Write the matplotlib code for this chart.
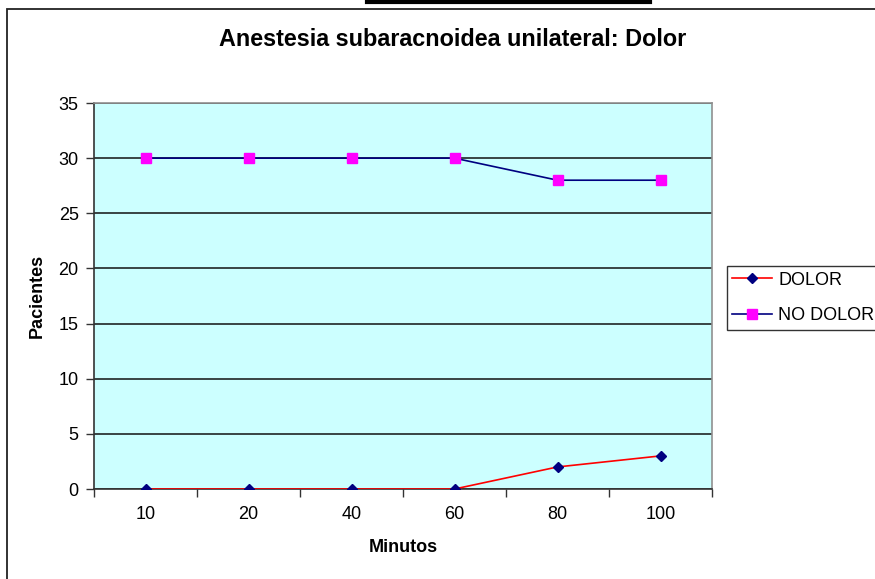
import matplotlib.pyplot as plt
from matplotlib.lines import Line2D
from matplotlib.patches import Rectangle

# datos
minutos = ['10', '20', '40', '60', '80', '100']
dolor = [0, 0, 0, 0, 2, 3]
no_dolor = [30, 30, 30, 30, 28, 28]

plt.rcParams['font.family'] = ['Liberation Sans', 'DejaVu Sans']

fig = plt.figure(figsize=(8.75, 5.79), dpi=100)
fig.patch.set_facecolor('white')

# marco del gráfico
fig.patches.append(Rectangle((7 / 875, -0.01), 1.0, 1 - 9 / 579 + 0.01,
                             transform=fig.transFigure, fill=False,
                             edgecolor='#222222', linewidth=1.3))
fig.lines.append(Line2D([367 / 875, 650 / 875], [1 - 1.5 / 579, 1 - 1.5 / 579],
                        transform=fig.transFigure, color='black', linewidth=3))

ax = fig.add_axes([94 / 875, 1 - 489 / 579, 618 / 875, 386 / 579])
ax.set_facecolor('#CCFFFF')

x = list(range(len(minutos)))
ax.plot(x, dolor, color='#FF0000', linewidth=1.2, marker='D', markersize=5.5,
        markerfacecolor='#000080', markeredgecolor='#000080', label='DOLOR', zorder=3)
ax.plot(x, no_dolor, color='#000080', linewidth=1.2, marker='s', markersize=6.5,
        markerfacecolor='#FF00FF', markeredgecolor='#FF00FF', label='NO DOLOR', zorder=3)

ax.set_xlim(-0.5, len(minutos) - 0.5)
ax.set_ylim(0, 35)
ax.set_yticks(range(0, 36, 5))
ax.yaxis.grid(True, color='#111111', linewidth=1.1)
ax.set_axisbelow(True)

ax.set_xticks(x)
ax.set_xticklabels(minutos)
ax.set_xticks([i - 0.5 for i in range(len(minutos) + 1)], minor=True)
ax.tick_params(axis='x', which='major', length=0, pad=12, labelsize=13)
ax.tick_params(axis='x', which='minor', length=6, width=1, color='#333333', direction='out')
ax.tick_params(axis='y', length=6, width=1, color='#333333', labelsize=13, pad=5)

for side in ['top', 'right']:
    ax.spines[side].set_color('#909090')
    ax.spines[side].set_linewidth(1.2)
for side in ['left', 'bottom']:
    ax.spines[side].set_color('#333333')
    ax.spines[side].set_linewidth(1.2)

ax.set_xlabel('Minutos', fontsize=13, fontweight='bold', va='center')
ax.xaxis.set_label_coords(0.5, (489 - 548) / 386)
ax.set_ylabel('Pacientes', fontsize=13, fontweight='bold', va='center')
ax.yaxis.set_label_coords((37 - 94) / 618, 0.5)

fig.text(453 / 875, 1 - 39 / 579, 'Anestesia subaracnoidea unilateral: Dolor',
         ha='center', va='center', fontsize=16.8, fontweight='bold')

leg = ax.legend(loc='center left', bbox_to_anchor=(727 / 875, 1 - 298 / 579),
                bbox_transform=fig.transFigure, frameon=True, fancybox=False,
                fontsize=13, handlelength=2.2, handletextpad=0.35,
                borderpad=0.3, labelspacing=1.05, borderaxespad=0)
leg.get_frame().set_edgecolor('black')
leg.get_frame().set_linewidth(1.0)

fig.savefig('out.png', dpi=100)
